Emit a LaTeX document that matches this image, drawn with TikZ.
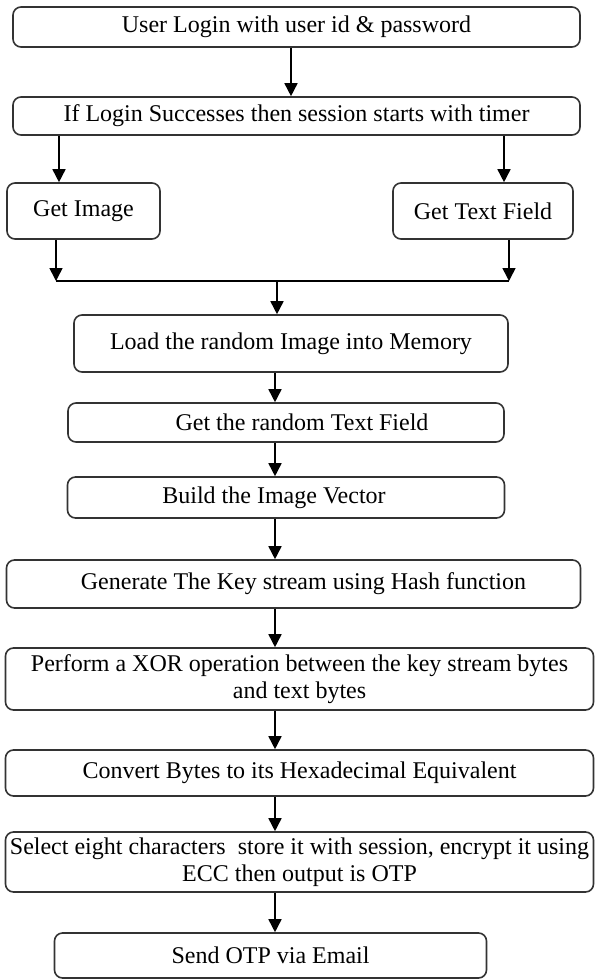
\documentclass[tikz,border=0pt]{standalone}
\usepackage{fontspec}
\setmainfont{Liberation Serif}
\usetikzlibrary{positioning}
\usetikzlibrary{arrows.meta}
\tikzset{
    box/.style = {rectangle, draw=black!80, rounded corners=8pt, line width=1.6pt,
        align=center, inner sep=0pt, font=\fontsize{24}{27}\selectfont},
    wire/.style = {line width=1.6pt}}

\begin{document}
\begin{tikzpicture}[-{Triangle[length=13pt,width=13pt]}, x=1pt, y=-1pt, on grid,
    wire,
    stepbox/.style 2 args={box, minimum width=#1, minimum height=#2}
    ]
    \useasboundingbox (0,0) rectangle (596,979);
    \node[stepbox={567pt}{40pt}] (login) at (296.5,27) {User Login with user id \& password};
    \node[stepbox={567pt}{38pt}] (session) [below = 89pt of login] {If Login Successes then session starts with timer};
    \node[stepbox={153pt}{56pt}] (img) [below left = 95pt and 213pt of session] {Get Image};
    \node[stepbox={180pt}{56pt}] (txt) [below right = 95pt and 186.5pt of session] {Get Text Field};
    \node[stepbox={434pt}{57pt}] (load) [below = 227.5pt of session, xshift=-5.5pt] {Load the random Image into Memory};
    \node[stepbox={436pt}{39pt}] (rtxt) [below = 79pt of load, xshift=-5pt] {\hspace*{32pt}Get the random Text Field};
    \node[stepbox={437pt}{41pt}] (build) [below = 75pt of rtxt] {Build the Image Vector\hspace*{24pt}};
    \node[stepbox={574pt}{48pt}] (keygen) [below = 86.5pt of build, xshift=7.5pt] {\hspace*{20pt}Generate The Key stream using Hash function};
    \node[stepbox={588pt}{62pt}] (xor) [below = 95pt of keygen, xshift=6pt] {Perform a XOR operation between the key stream bytes\\ and text bytes};
    \node[stepbox={588pt}{46pt}] (conv) [below = 94pt of xor] {Convert Bytes to its Hexadecimal Equivalent};
    \node[stepbox={588pt}{60pt}] (sel) [below = 89pt of conv] {Select eight characters\ \ store it with session, encrypt it using\\ ECC then output is OTP};
    \node[stepbox={432pt}{45pt}] (send) [below = 93.5pt of sel, xshift=-29pt] {Send OTP via Email};
    % columns for the arrows
    \coordinate (colTop) at (291,0);
    \coordinate (colM) at (275,0);
    \coordinate (colL) at (59,0);
    \coordinate (colR) at (504,0);
    \coordinate (joinL) at (56,281);
    \coordinate (joinR) at (509,281);
    \coordinate (joinM) at (277,281);
    \draw (login.south -| colTop) -- (session.north -| colTop);
    \draw (session.south -| colL) -- (img.north -| colL);
    \draw (session.south -| colR) -- (txt.north -| colR);
    \draw (img.south -| joinL) -- (joinL);
    \draw (txt.south -| joinR) -- (joinR);
    \draw[-] (joinL) -- (joinR);
    \draw (joinM) -- (load.north -| joinM);
    \foreach \a/\b in {load/rtxt, rtxt/build, build/keygen, keygen/xor, xor/conv, conv/sel, sel/send}
        \draw (\a.south -| colM) -- (\b.north -| colM);
\end{tikzpicture}
\end{document}
